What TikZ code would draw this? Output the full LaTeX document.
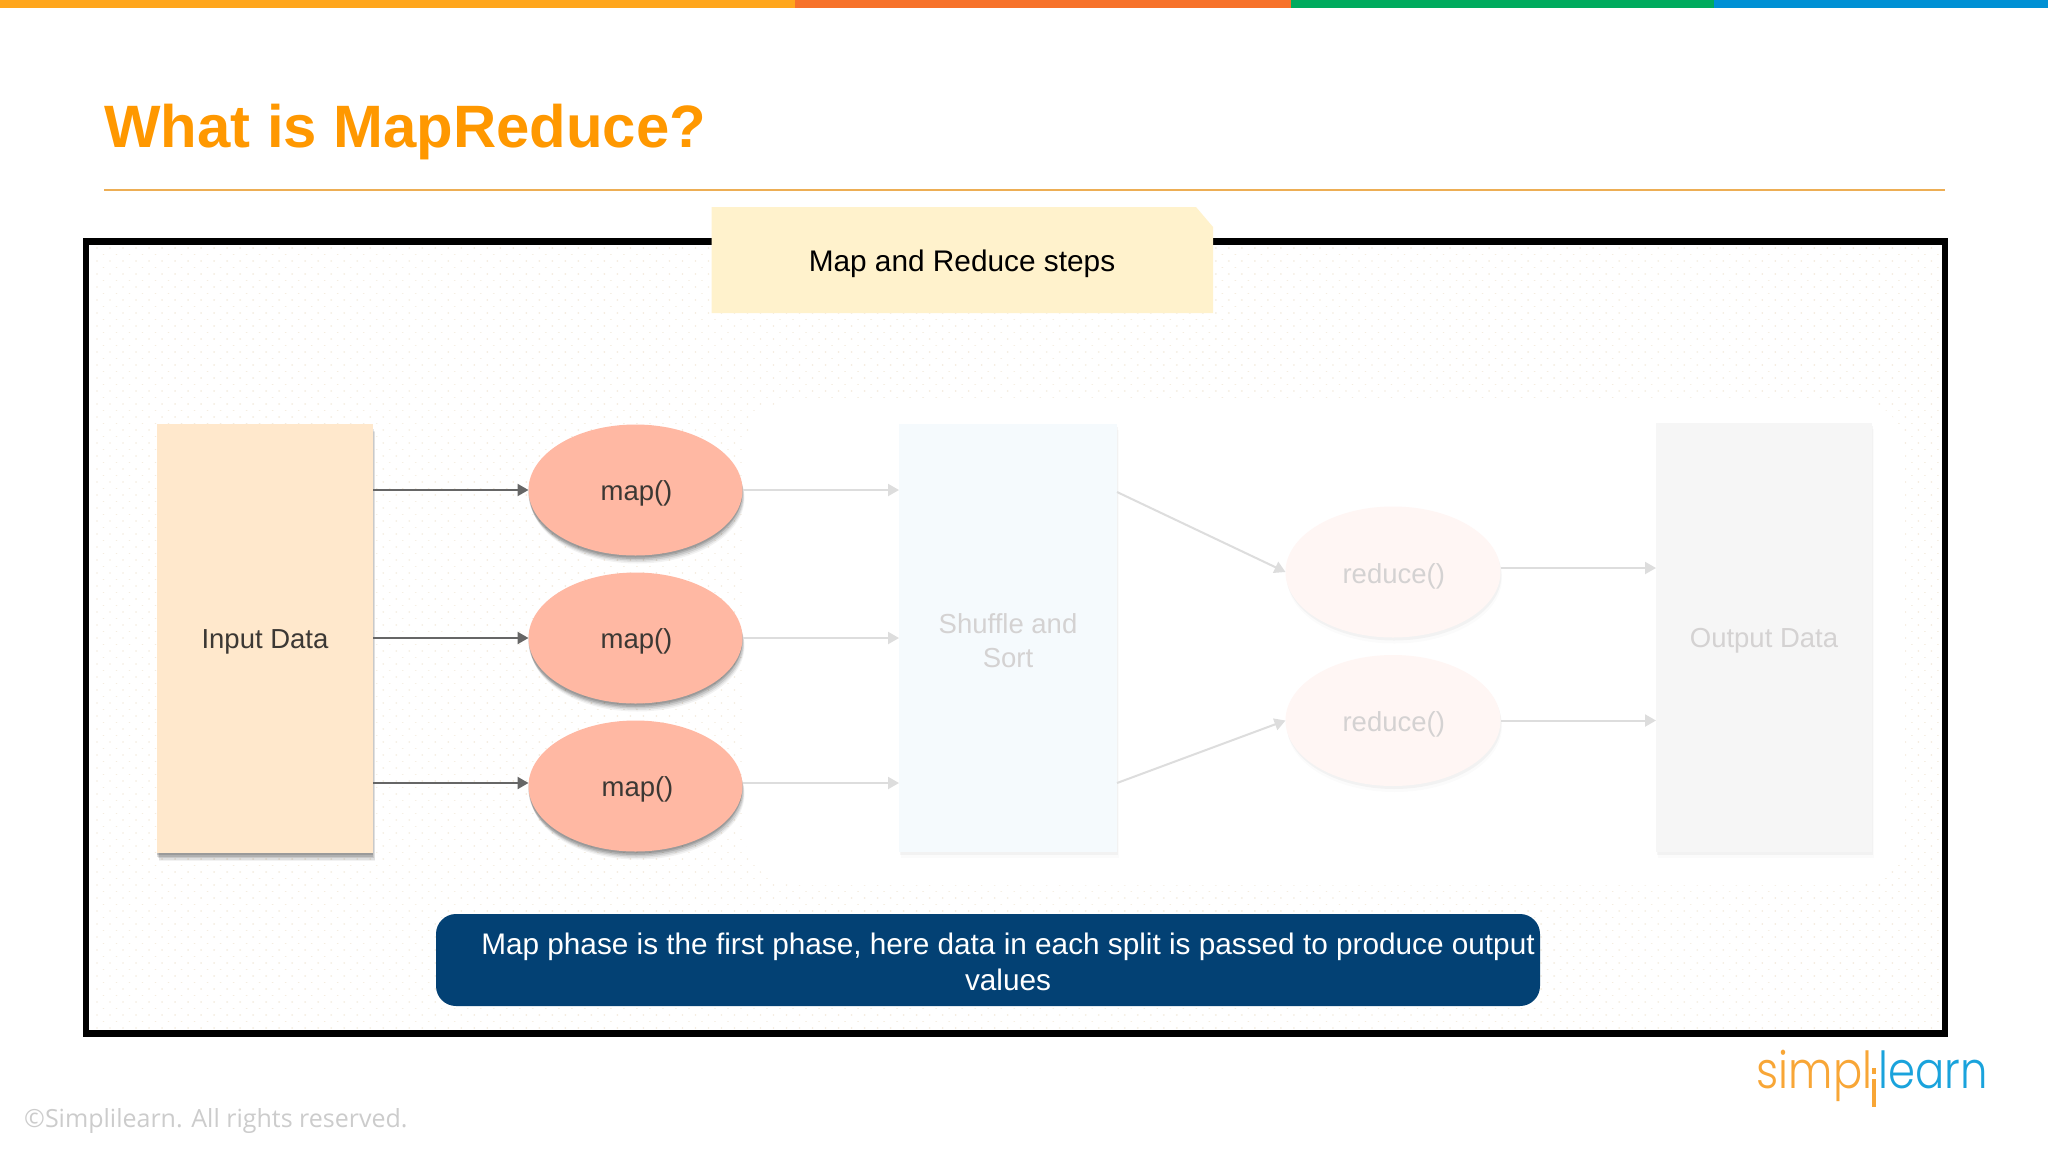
\documentclass[tikz,border=0pt]{standalone}
\usepackage{fontspec}
\setmainfont{Liberation Sans}
\newfontfamily\footfont{Open Sans}
\newfontfamily\logofont{Poppins Light}
\usetikzlibrary{arrows.meta,shapes.geometric,shadows}
\definecolor{barA}{HTML}{FFA61C}
\definecolor{barB}{HTML}{F7722A}
\definecolor{barC}{HTML}{00AB5E}
\definecolor{barD}{HTML}{0090D4}
\definecolor{titleC}{HTML}{FF9800}
\definecolor{ruleC}{HTML}{EDAE55}
\definecolor{dotC}{HTML}{F4ECDF}
\definecolor{noteC}{HTML}{FFF2CC}
\definecolor{inputC}{HTML}{FFE8CC}
\definecolor{mapC}{HTML}{FFB8A3}
\definecolor{shufC}{HTML}{F5FAFD}
\definecolor{redC}{HTML}{FFF6F4}
\definecolor{outC}{HTML}{F6F6F6}
\definecolor{darkT}{HTML}{3C3834}
\definecolor{paleT}{HTML}{D4D2D2}
\definecolor{arrDark}{HTML}{666666}
\definecolor{arrPale}{HTML}{DDDDDD}
\definecolor{phaseC}{HTML}{034174}
\definecolor{logoO}{HTML}{F8A636}
\definecolor{logoB}{HTML}{1AA3DC}
\newcommand{\fs}[1]{\fontsize{#1}{#1}\selectfont}
\tikzset{
  x=1pt,y=-1pt,
  strongshadow/.style={
    general shadow={shadow xshift=2pt,shadow yshift=-8pt,fill=black,opacity=.05},
    general shadow={shadow xshift=1.5pt,shadow yshift=-6.5pt,fill=black,opacity=.07},
    general shadow={shadow xshift=1pt,shadow yshift=-5pt,fill=black,opacity=.10},
    general shadow={shadow xshift=0pt,shadow yshift=-3.5pt,fill=black,opacity=.12},
    general shadow={shadow xshift=0pt,shadow yshift=-2pt,fill=black,opacity=.12}},
  faintshadow/.style={
    general shadow={shadow xshift=1.5pt,shadow yshift=-6pt,fill=black,opacity=.015},
    general shadow={shadow xshift=1pt,shadow yshift=-3pt,fill=black,opacity=.035}},
  box/.style={rectangle,inner sep=0pt,outer sep=0pt,minimum width=#1,align=center},
  oval/.style={ellipse,inner sep=0pt,outer sep=0pt,minimum width=214pt,minimum height=131pt,align=center},
  inputbox/.style={box=216pt,minimum height=429pt,fill=inputC,strongshadow,text=darkT,font=\fs{27.5},text height=25.5pt},
  mapnode/.style={oval,fill=mapC,strongshadow,text=darkT,font=\fs{27.5},text height=26.6pt},
  shufbox/.style={box=218pt,minimum height=428pt,fill=shufC,faintshadow,text=paleT,font=\fs{27.5}},
  rednode/.style={oval,minimum width=215pt,fill=redC,faintshadow,text=paleT,font=\fs{27.5},text height=28pt},
  outbox/.style={box=216pt,minimum height=429pt,fill=outC,faintshadow,text=paleT,font=\fs{27.5},text height=25.5pt},
  darrow/.style={draw=arrDark,line width=2.2pt,-{Triangle[length=11pt,width=12pt,fill=arrDark]}},
  parrow/.style={draw=arrPale,line width=2pt,-{Triangle[length=11pt,width=12pt,fill=arrPale]}},
}
\begin{document}
\begin{tikzpicture}
\useasboundingbox (0,0) rectangle (2048,1152);
\fill[white] (0,0) rectangle (2048,1152);
% top bar
\fill[barA] (0,0) rectangle (795,8);
\fill[barB] (795,0) rectangle (1291,8);
\fill[barC] (1291,0) rectangle (1714,8);
\fill[barD] (1714,0) rectangle (2048,8);
% title and rule
\node[anchor=base west,inner sep=0pt,text=titleC,font=\bfseries\fs{59.85}] (title) at (104,147) {What is MapReduce?};
\draw[ruleC,line width=2pt] (104,190) -- (1945,190);
% dotted ground
\foreach \r in {0,...,120}{
  \pgfmathsetmacro{\ypos}{248+6.5*\r}
  \pgfmathsetmacro{\xpos}{int(mod(\r,2))==0 ? 97 : 103.5}
  \draw[dotC,line width=1.8pt,line cap=round,dash pattern=on 0.01pt off 13pt] (\xpos,\ypos) -- (1938,\ypos);
}
\fill[white,rounded corners=50pt] (745,400) rectangle (1905,885);
% frame
\draw[black,line width=6.5pt,line join=miter] (86,241.5) rectangle (1945,1033.5);
% note
\fill[noteC] (711.5,207) -- (1196,207) -- (1213,227) -- (1213,313) -- (711.5,313) -- cycle;
\node[inner sep=0pt,text=black,font=\fs{29.8}] (steps) at (962,263.5) {Map and Reduce steps};
% boxes
\node[inputbox] (input) at (265,638.5) {Input Data};
\node[mapnode] (map1) at (635.5,490) {\hspace{2pt}map()};
\node[mapnode] (map2) at (635.5,638) {\hspace{2pt}map()};
\node[mapnode] (map3) at (635.5,786) {\hspace{4pt}map()};
\node[shufbox] (shuffle) at (1008,638) {\rule{0pt}{25.5pt}Shuffle and\\[6pt]Sort};
\node[rednode] (red1) at (1393,572) {\hspace{1.5pt}reduce()};
\node[rednode] (red2) at (1393,720.5) {\hspace{1.5pt}reduce()};
\node[outbox] (output) at (1764,637.5) {Output Data};
% connectors
\draw[darrow] (input.east |- map1.west) -- (map1.west);
\draw[darrow] (input.east |- map2.west) -- (map2.west);
\draw[darrow] ([yshift=3pt]input.east |- map3.west) -- ([yshift=3pt]map3.west);
\draw[parrow] (map1.east) -- (shuffle.west |- map1.east);
\draw[parrow] (map2.east) -- (shuffle.west |- map2.east);
\draw[parrow] ([yshift=3pt]map3.east) -- ([yshift=3pt]shuffle.west |- map3.east);
\draw[parrow] ([yshift=146pt]shuffle.east) -- (red1.west);
\draw[parrow] ([yshift=-145pt]shuffle.east) -- (red2.west);
\draw[parrow] ([yshift=4pt]red1.east) -- ([yshift=4pt]output.west |- red1.east);
\draw[parrow] (red2.east) -- (output.west |- red2.east);
% phase note
\node[box=1104pt,minimum height=92pt,fill=phaseC,rounded corners=20pt] (phasebox) at (988,960) {};
\node[inner sep=0pt,text=white,align=center,font=\fs{29.75}] (phase) at (1008,962) {Map phase is the first phase, here data in each split is passed to produce output\\[6pt]values};
% footer
\node[anchor=base west,inner sep=0pt,text=black!20,font=\footfont\fs{25}] (copy) at (24,1127) {©Simplilearn. All rights reserved.};
% logo
\node[anchor=base west,inner sep=0pt,text=logoO,font=\logofont\fs{51},xscale=.85] (logoa) at (1756.5,1088) {simpl};
\fill[logoO] (1872,1068) rectangle (1876,1074);
\fill[logoO] (1872,1079) rectangle (1876,1107);
\node[anchor=base west,inner sep=0pt,text=logoB,font=\logofont\fs{51},xscale=.85] (logob) at (1878.5,1088) {learn};
\end{tikzpicture}
\end{document}
